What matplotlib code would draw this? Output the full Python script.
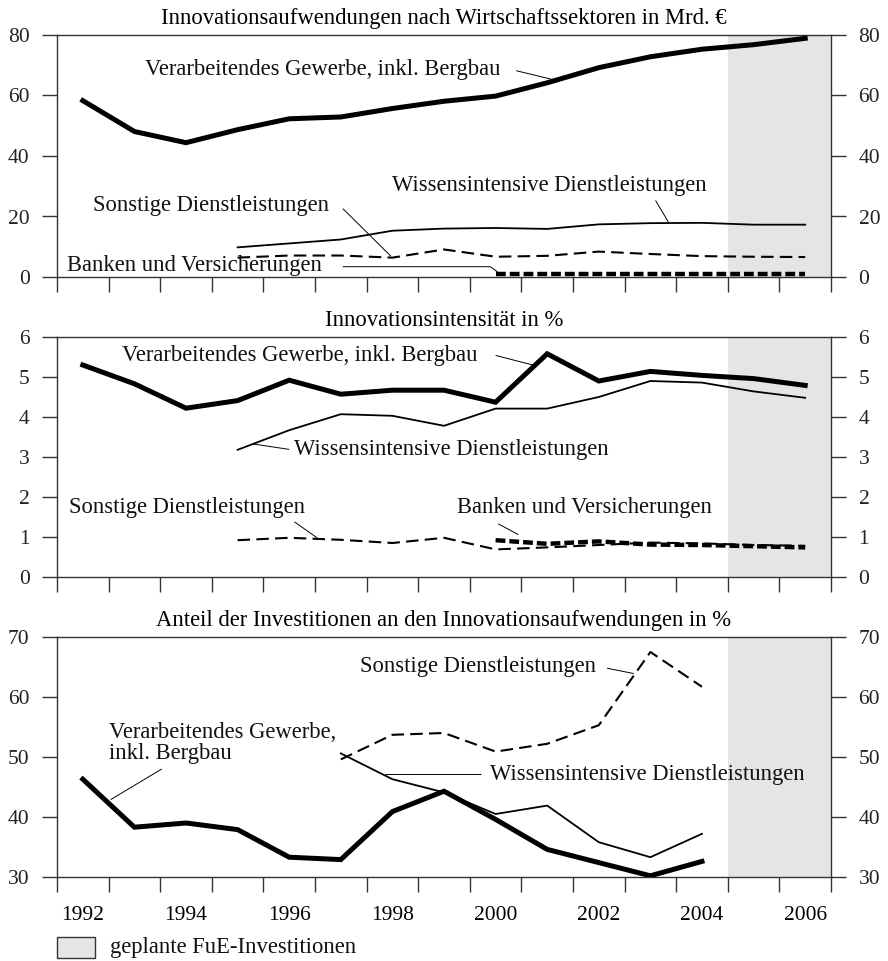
import numpy as np
import matplotlib
matplotlib.use("Agg")
import matplotlib.pyplot as plt
from matplotlib.patches import Rectangle

plt.rcParams['font.family'] = ['Liberation Serif', 'DejaVu Serif']
FS = 16.3
TFS = 15.5

years = np.arange(1992, 2007)
years_svc = np.arange(1995, 2007)
years_bank = np.arange(2000, 2007)
years_inv_vg = np.arange(1992, 2005)
years_inv_svc = np.arange(1997, 2005)

# Panel 1: Innovationsaufwendungen (Mrd. €)
aufw_verarb = [58.3, 48.1, 44.4, 48.7, 52.3, 52.9, 55.7, 58.1, 59.8, 64.2, 69.2, 72.8, 75.3, 76.8, 78.9]
aufw_wissen = [9.8, 11.1, 12.4, 15.3, 16.0, 16.2, 15.9, 17.4, 17.8, 17.9, 17.3, 17.3]
aufw_sonst = [6.4, 7.1, 7.1, 6.4, 9.1, 6.7, 7.0, 8.4, 7.6, 6.9, 6.7, 6.6]
aufw_banken = [1.0, 1.0, 1.0, 1.0, 1.0, 1.0, 1.0]

# Panel 2: Innovationsintensität (%)
int_verarb = [5.3, 4.83, 4.22, 4.41, 4.92, 4.57, 4.67, 4.67, 4.37, 5.58, 4.9, 5.14, 5.04, 4.96, 4.79]
int_wissen = [3.18, 3.67, 4.07, 4.03, 3.78, 4.21, 4.21, 4.5, 4.9, 4.86, 4.64, 4.48]
int_sonst = [0.92, 0.98, 0.93, 0.85, 0.98, 0.69, 0.74, 0.8, 0.86, 0.84, 0.8, 0.78]
int_banken = [0.92, 0.83, 0.89, 0.81, 0.8, 0.77, 0.74]

# Panel 3: Anteil der Investitionen (%)
inv_verarb = [46.3, 38.3, 39.0, 37.9, 33.3, 32.9, 40.9, 44.3, 39.6, 34.6, 32.4, 30.2, 32.6]
inv_wissen = [50.6, 46.3, 44.1, 40.5, 41.9, 35.8, 33.3, 37.2]
inv_sonst = [49.6, 53.7, 54.0, 50.9, 52.2, 55.3, 67.5, 61.7]

titles = ["Innovationsaufwendungen nach Wirtschaftssektoren in Mrd. €",
          "Innovationsintensität in %",
          "Anteil der Investitionen an den Innovationsaufwendungen in %"]
year_labels = ["1992", "1994", "1996", "1998", "2000", "2002", "2004", "2006"]
legend_label = "geplante FuE-Investitionen"

W, H = 888, 961
fig = plt.figure(figsize=(W / 100, H / 100), dpi=100)

SPINE = '#333333'
SHADE = '#e6e5e4'
TL = 10.8  # tick length in points (15 px)


def make_axes(top_px, bot_px, ylim, yticks, title):
    ax = fig.add_axes([57 / W, 1 - bot_px / H, (831 - 57) / W, (bot_px - top_px) / H])
    ax.set_xlim(1991.5, 2006.5)
    ax.set_ylim(*ylim)
    ax.axvspan(2004.5, 2006.5, color=SHADE, zorder=0, lw=0)
    ax.set_xticks(np.arange(1991.5, 2007, 1.0))
    ax.set_xticklabels([])
    ax.tick_params(axis='x', direction='out', length=TL, width=1.0, color=SPINE)
    ax.set_yticks(yticks)
    ax.tick_params(axis='y', direction='out', length=TL, width=1.0, color=SPINE,
                   left=True, right=True, labelleft=True, labelright=True, labelsize=TFS)
    ax.tick_params(axis='y', which='major', pad=9)
    for s in ax.spines.values():
        s.set_color(SPINE)
        s.set_linewidth(1.0)
    ax.set_title(title, fontsize=FS, pad=8)
    for lab in ax.get_yticklabels():
        lab.set_color('#222222')
    return ax


def leader(ax, xs, ys):
    ax.plot(xs, ys, color='black', lw=0.7, solid_capstyle='butt', zorder=4)


def label(ax, x, y, s, **kw):
    ax.text(x, y, s, fontsize=FS, va='center', ha='left', color='#111111', zorder=5, **kw)


THICK = dict(color='black', lw=3.6, solid_joinstyle='miter', zorder=3)
THIN = dict(color='black', lw=1.3, zorder=3)
DASH = dict(color='black', lw=1.5, dashes=(6, 3), zorder=3)
BANK = dict(color='black', lw=3.2, dashes=(2.2, 0.9), dash_capstyle='butt', zorder=3)

# ---------------- Panel 1 ----------------
ax1 = make_axes(35, 277, (0, 80), [0, 20, 40, 60, 80], titles[0])
ax1.plot(years, aufw_verarb, **THICK)
ax1.plot(years_svc, aufw_wissen, **THIN)
ax1.plot(years_svc, aufw_sonst, **DASH)
ax1.plot(years_bank, aufw_banken, **BANK)
label(ax1, 1993.2, 68.7, "Verarbeitendes Gewerbe, inkl. Bergbau")
leader(ax1, [2000.4, 2001.1], [68.2, 65.3])
label(ax1, 1998.0, 30.3, "Wissensintensive Dienstleistungen")
leader(ax1, [2003.1, 2003.35], [25.3, 18.1])
label(ax1, 1992.2, 23.7, "Sonstige Dienstleistungen")
leader(ax1, [1997.04, 1997.97], [22.6, 6.9])
label(ax1, 1991.7, 3.9, "Banken und Versicherungen")
leader(ax1, [1997.04, 1999.9, 2000.05], [3.4, 3.4, 1.5])

# ---------------- Panel 2 ----------------
ax2 = make_axes(337, 577, (0, 6), [0, 1, 2, 3, 4, 5, 6], titles[1])
ax2.plot(years, int_verarb, **THICK)
ax2.plot(years_svc, int_wissen, **THIN)
ax2.plot(years_svc, int_sonst, **DASH)
ax2.plot(years_bank, int_banken, **BANK)
label(ax2, 1992.76, 5.54, "Verarbeitendes Gewerbe, inkl. Bergbau")
leader(ax2, [2000.0, 2000.72], [5.54, 5.3])
label(ax2, 1996.1, 3.19, "Wissensintensive Dienstleistungen")
leader(ax2, [1995.28, 1996.0], [3.33, 3.19])
label(ax2, 1991.74, 1.75, "Sonstige Dienstleistungen")
leader(ax2, [1996.1, 1996.54], [1.38, 0.98])
label(ax2, 1999.26, 1.75, "Banken und Versicherungen")
leader(ax2, [2000.05, 2000.44], [1.33, 1.06])

# ---------------- Panel 3 ----------------
ax3 = make_axes(637, 877, (30, 70), [30, 40, 50, 60, 70], titles[2])
ax3.plot(years_inv_vg, inv_verarb, **THICK)
ax3.plot(years_inv_svc, inv_wissen, **THIN)
ax3.plot(years_inv_svc, inv_sonst, **DASH)
label(ax3, 1997.37, 65.1, "Sonstige Dienstleistungen")
leader(ax3, [2002.16, 2002.68], [64.8, 63.9])
label(ax3, 1992.5, 54.0, "Verarbeitendes Gewerbe,")
label(ax3, 1992.5, 50.6, "inkl. Bergbau")
leader(ax3, [1993.53, 1992.54], [48.0, 42.9])
label(ax3, 1999.89, 47.05, "Wissensintensive Dienstleistungen")
leader(ax3, [1997.86, 1999.72], [47.2, 47.2])

ax3.set_xticks(np.arange(1992, 2007, 2), minor=True)
ax3.set_xticklabels(year_labels, minor=True, fontsize=TFS)
ax3.tick_params(axis='x', which='minor', length=0, pad=21)

# ---------------- Legend ----------------
fig.patches.append(Rectangle((57 / W, 1 - 958 / H), 38 / W, 21 / H,
                             transform=fig.transFigure, facecolor=SHADE,
                             edgecolor=SPINE, lw=1.0))
fig.text(110 / W, 1 - 947 / H, legend_label, fontsize=FS, va='center', ha='left', color='#111111')

fig.savefig("out.png", dpi=100)
